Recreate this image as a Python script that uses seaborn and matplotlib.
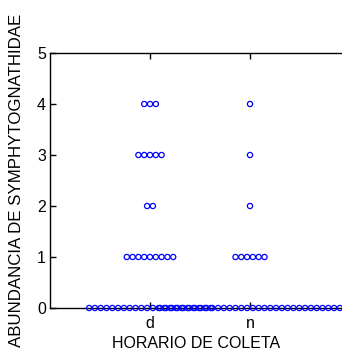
import numpy as np
import pandas as pd
import matplotlib
matplotlib.use("Agg")
import matplotlib.pyplot as plt
import seaborn as sns

# Abundance counts per collecting time (d = day, n = night)
categories = ["d", "n"]
abundance_levels = [0, 1, 2, 3, 4]
counts_d = [22, 9, 2, 5, 3]
counts_n = [32, 6, 1, 1, 1]
y_ticks = [0, 1, 2, 3, 4, 5]

# Expand the tallies into one row per sample
rows = []
for cat, counts in zip(categories, [counts_d, counts_n]):
    for level, n in zip(abundance_levels, counts):
        rows += [(cat, level)] * n
df = pd.DataFrame(rows, columns=["horario", "abundancia"])

# Dot-plot layout: tied values spread side by side around the category centre
step = 0.058
cat_pos = {c: i for i, c in enumerate(categories)}
df["rank"] = df.groupby(["horario", "abundancia"]).cumcount()
df["size_grp"] = df.groupby(["horario", "abundancia"])["abundancia"].transform("size")
df["xpos"] = df["horario"].map(cat_pos) + (df["rank"] - (df["size_grp"] - 1) / 2) * step

sns.set_theme(style="ticks")
plt.rcParams["font.family"] = ["Liberation Sans", "DejaVu Sans"]

fig = plt.figure(figsize=(3.42, 3.56), dpi=100)
ax = fig.add_axes([50 / 342, 48 / 356, 1 - 50 / 342, 255 / 356])

sns.scatterplot(data=df, x="xpos", y="abundancia", ax=ax, marker="o",
                s=14, facecolors="none", edgecolor="#0000ff", linewidth=0.9,
                legend=False, clip_on=False, zorder=3)

ax.set_xlim(-1, 1.92)
ax.set_ylim(0, 5)
ax.set_xticks(range(len(categories)))
ax.set_xticklabels(categories)
ax.set_yticks(y_ticks)
ax.set_yticklabels([str(t) for t in y_ticks])

for side in ["left", "top", "bottom"]:
    ax.spines[side].set_visible(True)
    ax.spines[side].set_linewidth(1.0)
    ax.spines[side].set_color("black")
ax.spines["right"].set_visible(False)

ax.tick_params(axis="both", direction="in", length=4.5, width=1.0,
               colors="black", labelsize=11.5)
ax.tick_params(axis="x", top=True, bottom=True, pad=6)
ax.tick_params(axis="y", left=True, right=False, pad=3)

ax.set_xlabel("HORARIO DE COLETA", fontsize=11.5, labelpad=3, color="black")
ax.set_ylabel("ABUNDANCIA DE SYMPHYTOGNATHIDAE", fontsize=12.2, labelpad=9,
              color="black")

fig.savefig("out.png", dpi=100)
